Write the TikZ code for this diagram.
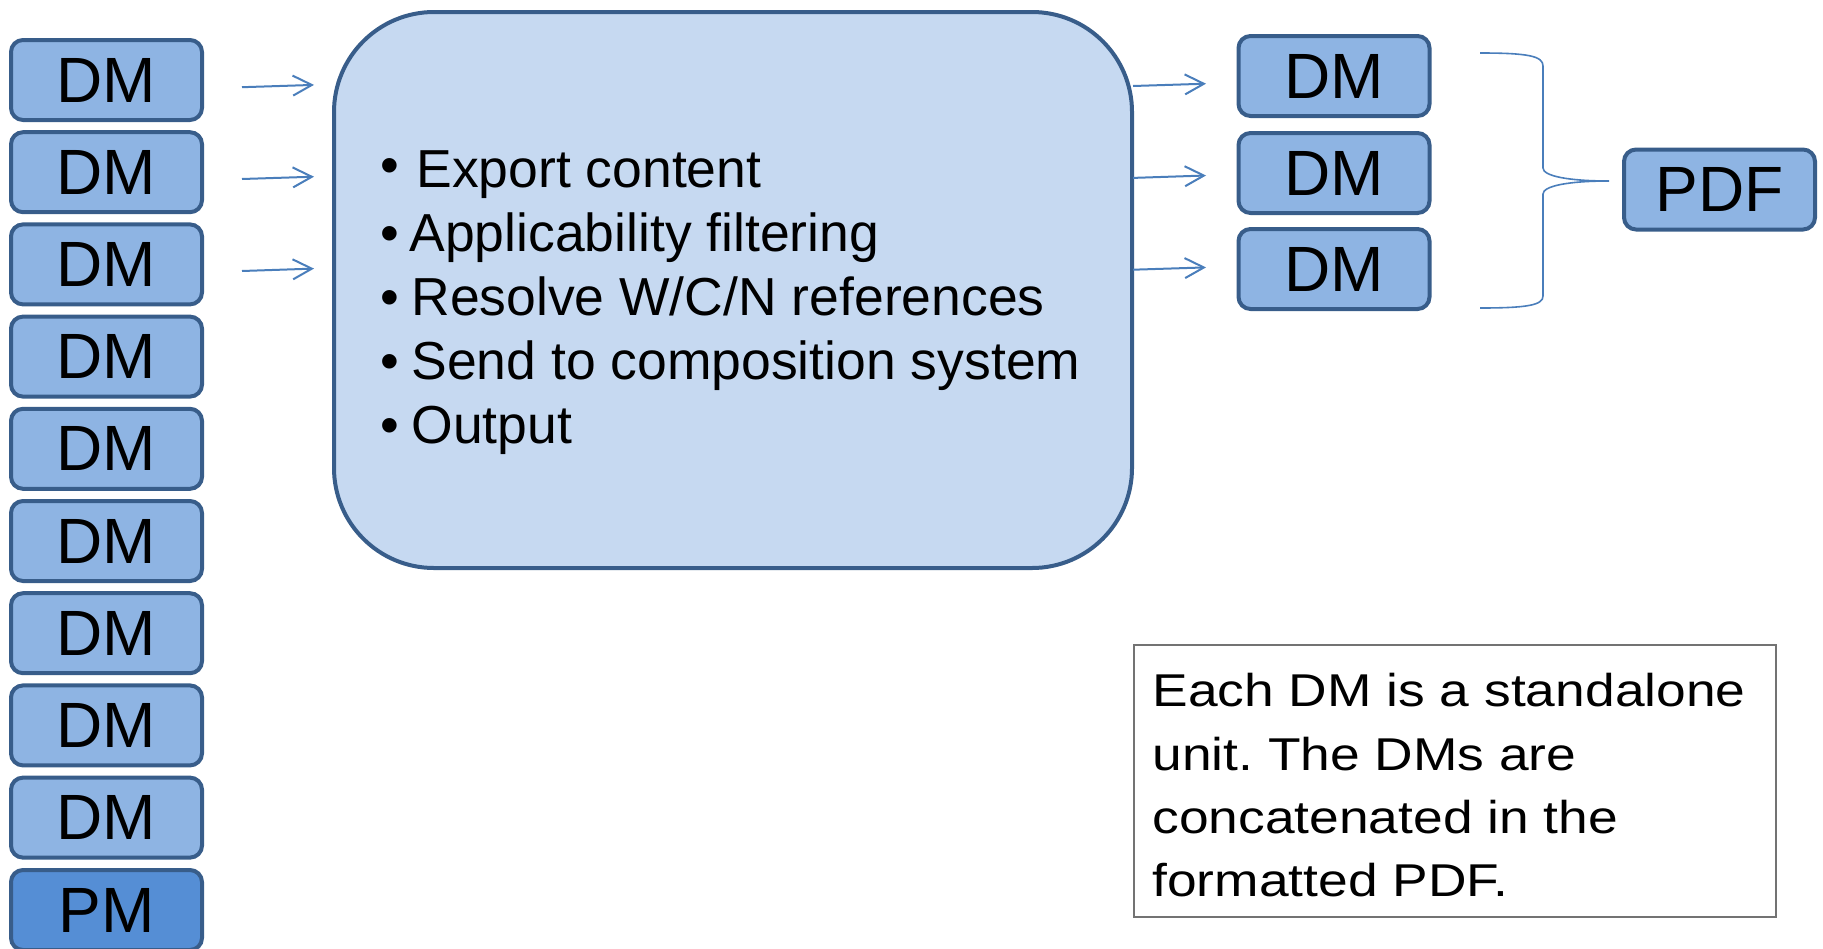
\documentclass[tikz,border=0pt]{standalone}
\usepackage{fontspec}
\setmainfont{Liberation Sans}
\newfontfamily\notefont[FakeStretch=1.16]{Liberation Sans}
\usetikzlibrary{arrows.meta}
\frenchspacing
\definecolor{dmfill}{HTML}{8EB4E3}
\definecolor{pmfill}{HTML}{558ED5}
\definecolor{mainfill}{HTML}{C6D9F1}
\definecolor{boxline}{HTML}{385D8A}
\definecolor{arrowblue}{HTML}{4A7EBB}
\definecolor{notegray}{HTML}{737373}
\tikzset{
  dmbox/.style={draw=boxline, line width=2pt, fill=dmfill, rounded corners=6pt,
    minimum width=95.5pt, minimum height=40pt, inner sep=0pt,
    font=\fontsize{32}{36}\selectfont},
  pmbox/.style={dmbox, fill=pmfill},
  mainbox/.style={draw=boxline, line width=2pt, fill=mainfill, rounded corners=50pt,
    minimum width=399pt, minimum height=278pt, inner sep=0pt},
  notebox/.style={draw=notegray, line width=0.9pt, minimum width=321pt,
    minimum height=135.75pt, inner sep=0pt},
  bullettext/.style={anchor=base west, inner sep=0pt, font=\fontsize{26.75}{30}\selectfont},
  notetext/.style={anchor=base west, inner sep=0pt, font=\notefont\fontsize{23}{30}\selectfont},
  flowarrow/.style={draw=arrowblue, line width=1pt, -{Straight Barb[length=9.5pt,width=10pt]}},
  bracepath/.style={draw=arrowblue, line width=0.8pt},
}
\begin{document}
\begin{tikzpicture}[x=0.5pt,y=-0.5pt]
\useasboundingbox (0,0) rectangle (1823,948);
% left column
\foreach \i in {0,...,8}{
  \node[dmbox] (L\i) at (106.5,{80+92.2*\i}) {DM};
}
\node[pmbox] (PM) at (106.5,910) {PM};
% main box
\node[mainbox] (main) at (733,290) {};
\node[bullettext] (b1) at (380,183) {\textbullet};
\node[bullettext] (t1) at (416,187) {Export content};
\node[bullettext] (b2) at (380,251) {\textbullet};
\node[bullettext] (t2) at (409,251) {Applicability filtering};
\node[bullettext] (b3) at (380,315) {\textbullet};
\node[bullettext] (t3) at (411,315) {Resolve W/C/N references};
\node[bullettext] (b4) at (380,379) {\textbullet};
\node[bullettext] (t4) at (411,379) {Send to composition system};
\node[bullettext] (b5) at (380,443) {\textbullet};
\node[bullettext] (t5) at (411,443) {Output};
% input arrows
\coordinate (ia1) at (242,87.2);  \coordinate (ib1) at (314,84.9);
\coordinate (ia2) at (242,179);   \coordinate (ib2) at (314,176.7);
\coordinate (ia3) at (242,271);   \coordinate (ib3) at (314,268.6);
\draw[flowarrow] (ia1) -- (ib1);
\draw[flowarrow] (ia2) -- (ib2);
\draw[flowarrow] (ia3) -- (ib3);
% right DMs
\node[dmbox] (R1) at (1334,76) {DM};
\node[dmbox] (R2) at (1334,173) {DM};
\node[dmbox] (R3) at (1334,269) {DM};
\coordinate (oa1) at (1133,86);    \coordinate (ob1) at (1206,83.7);
\coordinate (oa2) at (1133,177.9); \coordinate (ob2) at (1206,175.5);
\coordinate (oa3) at (1133,269.7); \coordinate (ob3) at (1206,267.4);
\draw[flowarrow] (oa1) -- (ob1);
\draw[flowarrow] (oa2) -- (ob2);
\draw[flowarrow] (oa3) -- (ob3);
% brace
\coordinate (brtop) at (1480,53);
\coordinate (brtip) at (1609,181);
\coordinate (brbot) at (1480,308);
\draw[bracepath] (brtop) .. controls (1528,53) and (1543,56) .. (1543,66) -- (1543,168)
  .. controls (1543,176) and (1568,181) .. (brtip)
  .. controls (1568,181) and (1543,186) .. (1543,194) -- (1543,296)
  .. controls (1543,305) and (1528,308) .. (brbot);
% PDF
\node[dmbox] (pdf) at (1719.5,189.5) {PDF};
% note
\node[notebox] (note) at (1455,781) {};
\node[notetext] (n1) at (1152,706) {Each DM is a standalone};
\node[notetext] (n2) at (1152,770) {unit. The DMs are};
\node[notetext] (n3) at (1152,833) {concatenated in the};
\node[notetext] (n4) at (1152,896) {formatted PDF.};
\end{tikzpicture}
\end{document}
